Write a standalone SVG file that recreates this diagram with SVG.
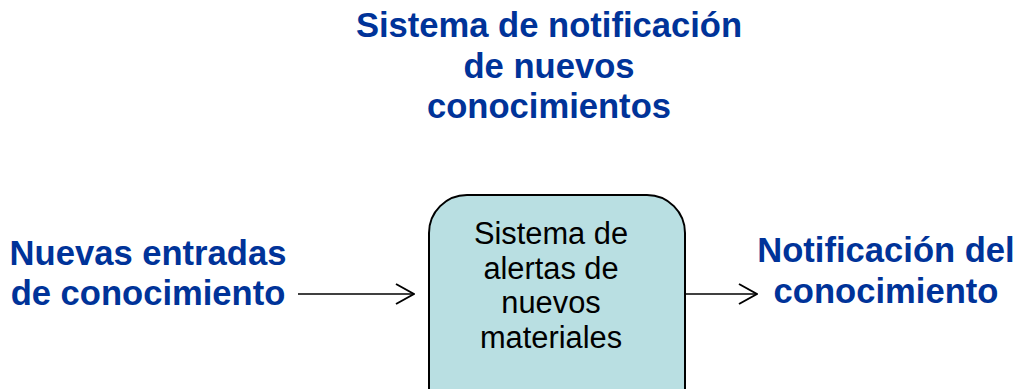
<svg xmlns="http://www.w3.org/2000/svg" width="1020" height="389" viewBox="0 0 1020 389">
<style>
.h{font-family:"Liberation Sans",Arial,sans-serif;font-weight:bold;font-size:34.6px;fill:#003399;text-anchor:middle}
.b{font-family:"Liberation Sans",Arial,sans-serif;font-size:30.8px;fill:#000;text-anchor:middle}
.c{stroke:#000;stroke-width:1.5;fill:none}
</style>
<defs>
<marker id="arr" viewBox="0 0 20 24" refX="19" refY="12" markerWidth="20" markerHeight="24" markerUnits="userSpaceOnUse" orient="auto">
<path d="M1,2 L19,12 L1,22" fill="none" stroke="#000" stroke-width="2"/>
</marker>
</defs>
<rect width="1020" height="389" fill="#fff"/>
<g id="title">
<text class="h" x="549" y="37">Sistema de notificación</text>
<text class="h" x="549" y="78">de nuevos</text>
<text class="h" x="549" y="118">conocimientos</text>
</g>
<g id="input">
<text class="h" x="148" y="265">Nuevas entradas</text>
<text class="h" x="148" y="305">de conocimiento</text>
</g>
<g id="system">
<rect x="429" y="195" width="256" height="240" rx="38" ry="38" fill="#b9dfe2" stroke="#000" stroke-width="2"/>
<text class="b" x="551" y="244">Sistema de</text>
<text class="b" x="551" y="279">alertas de</text>
<text class="b" x="551" y="313">nuevos</text>
<text class="b" x="551" y="348">materiales</text>
</g>
<g id="output">
<text class="h" x="886" y="262">Notificación del</text>
<text class="h" x="886" y="303">conocimiento</text>
</g>
<g id="connectors">
<line class="c" x1="298" y1="294" x2="414" y2="294" marker-end="url(#arr)"/>
<line class="c" x1="685" y1="294" x2="757" y2="294" marker-end="url(#arr)"/>
</g>
</svg>
